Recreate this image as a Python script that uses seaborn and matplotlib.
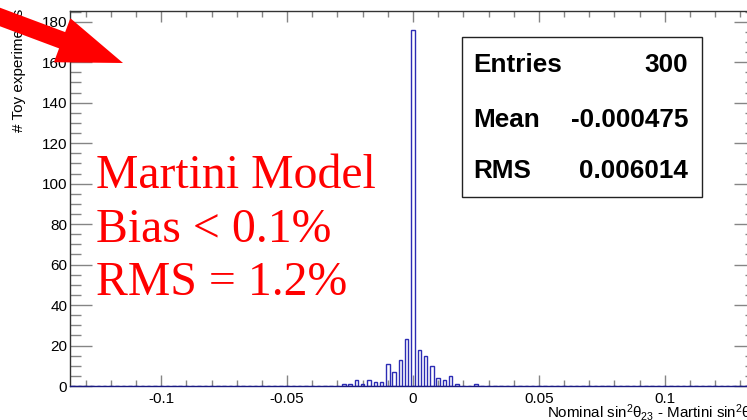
import numpy as np
import pandas as pd
import matplotlib
matplotlib.use("Agg")
import matplotlib.pyplot as plt
import seaborn as sns
from matplotlib.patches import Polygon, Rectangle
from matplotlib.ticker import MultipleLocator, FuncFormatter

# Toy-experiment differences (bin centres) and the number of experiments per bin
bin_centers = [-0.0275, -0.025, -0.0225, -0.02, -0.0175, -0.015, -0.0125, -0.01,
               -0.0075, -0.005, -0.0025, 0.0, 0.0025, 0.005, 0.0075, 0.01,
               0.0125, 0.015, 0.0175, 0.025]
counts = [1, 1, 3, 1, 3, 2, 2, 11, 7, 13, 23, 176, 18, 15, 10, 4, 3, 5, 1, 1]

x_range = (-0.13625, 0.13625)
n_bins = 109
y_max = 185.3

stat_names = ["Entries", "Mean", "RMS"]
stat_values = ["300", "-0.000475", "0.006014"]
note_lines = ["Martini Model", "Bias < 0.1%", "RMS = 1.2%"]

sns.set_style("ticks")
plt.rcParams["font.family"] = ["Liberation Sans", "DejaVu Sans"]
plt.rcParams["axes.unicode_minus"] = False
plt.rcParams["mathtext.fontset"] = "custom"
plt.rcParams["mathtext.rm"] = "Liberation Sans"
plt.rcParams["mathtext.it"] = "Liberation Sans"
plt.rcParams["mathtext.bf"] = "Liberation Sans:bold"

W, H = 747, 420
fig = plt.figure(figsize=(W / 100, H / 100), dpi=100)
fig.patch.set_facecolor("white")


def px(x, y):
    return x / W, 1 - y / H


# axes frame in pixel units: left 70, right 756 (runs past the edge), top 11, bottom 386
ax = fig.add_axes([70 / W, (H - 386) / H, (756 - 70) / W, (386 - 11) / H])
ax.set_facecolor("white")

df = pd.DataFrame({"diff": bin_centers, "n": counts})
edges = [float(e) for e in np.linspace(x_range[0], x_range[1], n_bins + 1)]
sns.histplot(data=df, x="diff", weights="n", bins=edges, shrink=0.55,
             fill=False, element="bars", color="#2c2cb4", linewidth=1.0,
             ax=ax)

ax.set_xlim(*x_range)
ax.set_ylim(0, y_max)
ax.set_xlabel("")
ax.set_ylabel("")

ax.xaxis.set_major_locator(MultipleLocator(0.05))
ax.xaxis.set_minor_locator(MultipleLocator(0.01))
ax.yaxis.set_major_locator(MultipleLocator(20))
ax.yaxis.set_minor_locator(MultipleLocator(5))
ax.xaxis.set_major_formatter(FuncFormatter(lambda v, p: "%g" % round(v, 4)))
ax.yaxis.set_major_formatter(FuncFormatter(lambda v, p: "%d" % round(v)))

ax.tick_params(which="both", direction="in", top=True, right=True,
               color="#858585", labelcolor="black", labelsize=11)
ax.tick_params(axis="x", which="major", length=8.2, width=1, pad=4)
ax.tick_params(axis="x", which="minor", length=4.0, width=1)
ax.tick_params(axis="y", which="major", length=15.8, width=1, pad=2)
ax.tick_params(axis="y", which="minor", length=7.9, width=1)

for s in ax.spines.values():
    s.set_color("#333333")
    s.set_linewidth(1.0)
ax.spines["bottom"].set_color("#1a1a80")

# axis titles
fig.text(*px(19.5, 9), "# Toy experiments", rotation=90, ha="center",
         va="top", fontsize=11, color="black")
fig.text(*px(547, 418),
         r"Nominal sin$^{2}\theta_{23}$ - Martini sin$^{2}\theta_{23}$",
         ha="left", va="baseline", fontsize=10.9, color="black")

# statistics box
bx0, by0, bx1, by1 = 461.7, 36.7, 701.7, 196.7
fig.patches.append(Rectangle(px(bx0, by1), (bx1 - bx0) / W, (by1 - by0) / H,
                             transform=fig.transFigure, facecolor="white",
                             edgecolor="#222222", linewidth=1.0, zorder=3))
for name, val, yb in zip(stat_names, stat_values, [71.7, 126.7, 178.0]):
    fig.text(*px(473.3, yb), name, ha="left", va="baseline", fontsize=18.8,
             fontweight="bold", color="black", zorder=4)
    fig.text(*px(688.3, yb), val, ha="right", va="baseline", fontsize=18.8,
             fontweight="bold", color="black", zorder=4)

# red annotation
for line, yb in zip(note_lines, [188.3, 241.7, 295.0]):
    fig.text(*px(96.5, yb), line, ha="left", va="baseline", fontsize=34.4,
             family="Liberation Serif", color="#ff0000", zorder=4)

# red arrow pointing into the plot
tip = np.array([123.0, 63.0])
d = np.array([0.936, 0.35])
d = d / np.linalg.norm(d)
n = np.array([-d[1], d[0]])
head_len, head_half, shaft_half = 65.0, 23.5, 8.7
base = tip - head_len * d
tail = tip - 170.0 * d
pts = [tail + shaft_half * n, base + shaft_half * n, base + head_half * n, tip,
       base - head_half * n, base - shaft_half * n, tail - shaft_half * n]
fig.patches.append(Polygon([px(*p) for p in pts], closed=True,
                           transform=fig.transFigure, facecolor="#ff0000",
                           edgecolor="none", zorder=6))

fig.savefig("out.png", dpi=100)
